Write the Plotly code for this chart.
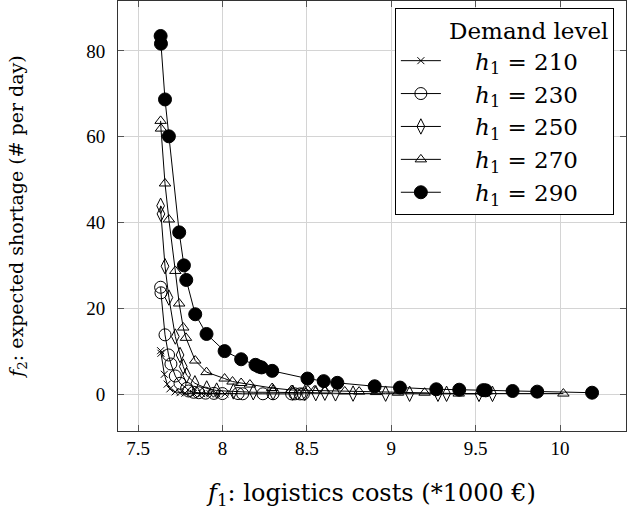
import plotly.graph_objects as go

# ---- data ----
x210 = [7.634, 7.636, 7.656, 7.673, 7.689, 7.72, 7.749, 7.778, 7.828, 7.877, 7.927, 7.966, 8.015]
y210 = [10.1, 9.5, 4.6, 2.3, 1.2, 0.5, 0.3, 0.2, 0.15, 0.1, 0.06, 0.04, 0.02]

x230 = [7.634, 7.636, 7.66, 7.681, 7.695, 7.721, 7.749, 7.788, 7.80, 7.83, 7.86, 7.9, 7.95, 8.0,
        8.093, 8.12, 8.24, 8.30, 8.41, 8.43, 8.46, 8.48]
y230 = [24.9, 23.6, 13.8, 9.1, 7.0, 4.2, 2.5, 1.3, 0.7, 0.4, 0.3, 0.2, 0.15, 0.1,
        0.1, 0.05, 0.05, 0.05, 0.03, 0.03, 0.02, 0.02]

x250 = [7.634, 7.636, 7.66, 7.683, 7.721, 7.749, 7.768, 7.788, 7.837, 7.907, 7.966, 8.065, 8.183,
        8.30, 8.417, 8.488, 8.553, 8.607, 8.67, 8.774, 8.967, 9.109, 9.277, 9.328, 9.52, 9.60]
y250 = [43.9, 42.0, 29.8, 22.5, 13.4, 9.1, 6.4, 4.4, 2.5, 1.3, 0.8, 0.6, 0.4,
        0.4, 0.3, 0.25, 0.2, 0.3, 0.15, 0.1, 0.08, 0.06, 0.05, 0.05, 0.03, 0.03]

x270 = [7.634, 7.636, 7.66, 7.683, 7.721, 7.744, 7.768, 7.784, 7.839, 7.906, 8.013, 8.06, 8.111,
        8.163, 8.295, 8.41, 8.506, 8.545, 8.607, 8.725, 8.81, 8.91, 9.04, 9.198, 9.40, 10.02]
y270 = [63.7, 61.9, 49.1, 40.7, 28.7, 21.1, 15.5, 13.1, 7.8, 5.1, 3.6, 2.9, 2.56,
        2.2, 1.4, 0.93, 0.85, 0.8, 0.75, 0.6, 0.55, 0.45, 0.3, 0.3, 0.1, 0.1]

x290 = [7.634, 7.636, 7.66, 7.683, 7.744, 7.772, 7.786, 7.839, 7.906, 8.013, 8.111, 8.196, 8.216,
        8.232, 8.295, 8.504, 8.60, 8.681, 8.902, 9.052, 9.267, 9.403, 9.545, 9.56, 9.719, 9.865, 10.19]
y290 = [83.5, 81.7, 68.7, 60.1, 37.7, 30.0, 26.6, 18.6, 14.0, 10.0, 8.1, 6.8, 6.4,
        6.2, 5.4, 3.6, 3.0, 2.6, 1.8, 1.5, 1.1, 1.0, 0.9, 0.85, 0.7, 0.55, 0.3]

labels = ["210", "230", "250", "270", "290"]
x_ticks = [7.5, 8, 8.5, 9, 9.5, 10]
x_tick_text = ["7.5", "8", "8.5", "9", "9.5", "10"]
y_ticks = [0, 20, 40, 60, 80]

TICKFONT = "Liberation Serif"
TITLEFONT = "DejaVu Serif"

series = [
    (x210, y210, dict(symbol="x-thin-open", size=7, color="black", line=dict(color="black", width=1))),
    (x230, y230, dict(symbol="circle-open", size=12, color="black", line=dict(color="black", width=1))),
    (x250, y250, dict(symbol="diamond-tall-open", size=11, color="black", line=dict(color="black", width=1))),
    (x270, y270, dict(symbol="triangle-up-open", size=10, color="black", line=dict(color="black", width=1))),
    (x290, y290, dict(symbol="circle", size=13, color="black", line=dict(color="black", width=1))),
]

NB = "\u00a0"
fig = go.Figure()
for (xs, ys, mk), lab in zip(series, labels):
    fig.add_trace(go.Scatter(
        x=xs, y=ys, mode="lines+markers",
        line=dict(color="black", width=1),
        marker=mk,
        name=NB * 4 + "<i>h</i><sub>1</sub>" + NB + "=" + NB + lab + NB * 4,
    ))

fig.update_layout(
    width=627, height=510,
    margin=dict(l=118, r=1, t=1, b=79),
    plot_bgcolor="white", paper_bgcolor="white",
    font=dict(family=TITLEFONT, size=18, color="black"),
    showlegend=True,
    legend=dict(
        x=0.545, y=0.983, xanchor="left", yanchor="top",
        bgcolor="white", bordercolor="black", borderwidth=1,
        font=dict(family=TITLEFONT, size=23, color="black"),
        title=dict(text=NB * 7 + "Demand level", side="top", font=dict(family=TITLEFONT, size=23)),
        tracegroupgap=0, itemwidth=40,
    ),
    xaxis=dict(
        range=[7.3815, 10.391], tickvals=x_ticks, ticktext=x_tick_text,
        showgrid=True, gridcolor="#d4d4d4", gridwidth=1, zeroline=False,
        showline=True, linecolor="#333333", linewidth=1, mirror="ticks",
        ticks="inside", ticklen=6, tickcolor="#555555", automargin=False,
        tickfont=dict(family=TICKFONT, size=19),
        title=dict(text="<i>f</i><sub>1</sub>: logistics costs (*1000 \u20ac)",
                   font=dict(family=TITLEFONT, size=24), standoff=26),
    ),
    yaxis=dict(
        range=[-8.63, 91.66], tickvals=y_ticks,
        showgrid=True, gridcolor="#d4d4d4", gridwidth=1, zeroline=False,
        showline=True, linecolor="#333333", linewidth=1, mirror="ticks",
        ticks="inside", ticklen=6, tickcolor="#555555", automargin=False,
        ticklabelstandoff=8,
        tickfont=dict(family=TICKFONT, size=19),
        title=dict(text="<i>f</i><sub>2</sub>: expected shortage (# per day)",
                   font=dict(family=TITLEFONT, size=19), standoff=57),
    ),
)

fig.write_html("out.html", config={"displayModeBar": False},
               post_script="document.body.style.margin='0';")
